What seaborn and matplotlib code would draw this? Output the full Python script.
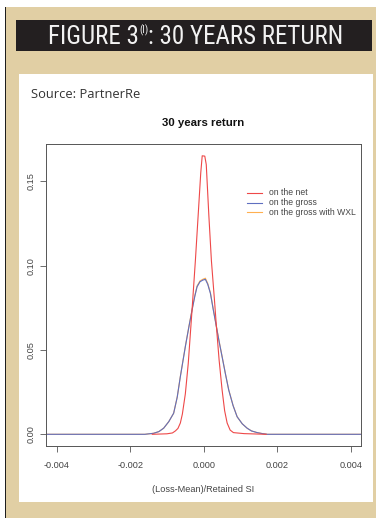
import numpy as np
import pandas as pd
import matplotlib
matplotlib.use("Agg")
import matplotlib.pyplot as plt
import seaborn as sns
from matplotlib.patches import Rectangle

# ---- data ----
net_x = [-0.0014, -0.0010, -0.00085, -0.00077, -0.00070, -0.000635, -0.00058, -0.000499,
         -0.00042, -0.000316, -0.000226, -0.00015, -0.00008, -0.00004, 0.00003, 0.00007,
         0.00014, 0.000210, 0.000292, 0.000346, 0.00042, 0.000501, 0.00057, 0.000638,
         0.00072, 0.000809, 0.0011, 0.0017]
net_y = [0.0, 0.0003, 0.0008, 0.0020, 0.0035, 0.0067, 0.0120, 0.0240,
         0.0420, 0.0740, 0.1030, 0.1300, 0.1550, 0.1652, 0.1650, 0.1600,
         0.1300, 0.1030, 0.0800, 0.0640, 0.0440, 0.0263, 0.0140, 0.0067,
         0.0025, 0.0010, 0.0004, 0.0]

gross_x = [-0.0050, -0.0016, -0.001362, -0.00122, -0.001090, -0.00095, -0.000817, -0.00072,
           -0.000635, -0.000499, -0.00040, -0.000316, -0.00024, -0.000180, -0.00010, -0.00002,
           0.000046, 0.00011, 0.000183, 0.00026, 0.000346, 0.00042, 0.000501, 0.00059,
           0.000681, 0.00080, 0.000910, 0.00105, 0.001183, 0.0013, 0.001455, 0.0016,
           0.001728, 0.0050]
gross_y = [0.0, 0.0, 0.0006, 0.0016, 0.0036, 0.0075, 0.0125, 0.0220,
           0.0342, 0.0520, 0.0640, 0.0737, 0.0820, 0.0875, 0.0905, 0.0915,
           0.0919, 0.0890, 0.0836, 0.0740, 0.0638, 0.0550, 0.0460, 0.0360,
           0.0263, 0.0170, 0.0104, 0.0062, 0.0036, 0.0020, 0.0010, 0.0004,
           0.0, 0.0]

wxl_x = gross_x
wxl_y = [0.0, 0.0, 0.0006, 0.0016, 0.0036, 0.0075, 0.0125, 0.0221,
         0.0343, 0.0522, 0.0643, 0.0740, 0.0824, 0.0880, 0.0910, 0.0920,
         0.0926, 0.0895, 0.0840, 0.0743, 0.0640, 0.0552, 0.0462, 0.0361,
         0.0264, 0.0171, 0.0104, 0.0062, 0.0036, 0.0020, 0.0010, 0.0004,
         0.0, 0.0]

series_names = ["on the net", "on the gross", "on the gross with WXL"]
x_ticks = [-0.004, -0.002, 0.000, 0.002, 0.004]
x_tick_labels = ["-0.004", "-0.002", "0.000", "0.002", "0.004"]
y_ticks = [0.00, 0.05, 0.10, 0.15]
y_tick_labels = ["0.00", "0.05", "0.10", "0.15"]

colors = {"on the net": "#EE4848", "on the gross": "#5F6FC0", "on the gross with WXL": "#FFB050"}

# draw order: WXL under gross, net on top
df = pd.concat([
    pd.DataFrame({"x": wxl_x, "y": wxl_y, "series": series_names[2]}),
    pd.DataFrame({"x": gross_x, "y": gross_y, "series": series_names[1]}),
    pd.DataFrame({"x": net_x, "y": net_y, "series": series_names[0]}),
], ignore_index=True)

W, H = 378, 518
fig = plt.figure(figsize=(W / 100, H / 100), dpi=100)
fig.patch.set_facecolor("white")

def rect(x0, y0, x1, y1, color, z=0):
    fig.patches.append(Rectangle((x0 / W, 1 - y1 / H), (x1 - x0) / W, (y1 - y0) / H,
                                 transform=fig.transFigure, facecolor=color,
                                 edgecolor="none", zorder=z))

BEIGE = "#E1CFA4"
rect(5, 7, 376, 518, BEIGE, 0)
rect(4.5, 7, 6, 518, "#1E1E1E", 1)
rect(16, 20, 372, 51, "#231F20", 1)
rect(19, 74, 373, 502, "white", 1)

# header
hdr_font = ["Liberation Sans Narrow", "Roboto Condensed", "Open Sans"]
fig.canvas.draw()
renderer = fig.canvas.get_renderer()
parts = [("FIGURE 3", 18), ("(I)", 7.5), (": 30 YEARS RETURN", 18)]
texts = []
for s, fs in parts:
    t = fig.text(0, 0, s, fontsize=fs, color="#F2F2F2", family=hdr_font, va="baseline", ha="left")
    texts.append(t)
widths = [t.get_window_extent(renderer).width for t in texts]
total = sum(widths) + 1
x = 196 - total / 2
base_y = 1 - 44.5 / H
for i, t in enumerate(texts):
    yy = base_y if i != 1 else 1 - 33 / H
    t.set_position((x / W, yy))
    x += widths[i] + (0.5 if i == 0 else 0)

fig.text(31 / W, 1 - 98 / H, "Source: PartnerRe", fontsize=9.3, color="#333333",
         family=["Open Sans", "DejaVu Sans"], va="baseline", ha="left")

# axes
L, R, T, B = 46, 361, 144, 446
ax = fig.add_axes([L / W, 1 - B / H, (R - L) / W, (B - T) / H])
ax.set_facecolor("white")
ax.set_zorder(2)

sns.lineplot(data=df, x="x", y="y", hue="series", palette=colors, sort=False,
             estimator=None, lw=0.8, ax=ax, legend=False)

ax.set_xlim(-0.00429, 0.00428)
ax.set_ylim(-0.00694, 0.1722)

tick_font = ["Liberation Sans", "DejaVu Sans"]
ax.set_xticks(x_ticks)
ax.set_xticklabels(x_tick_labels, fontsize=6.6, color="#444444", family=tick_font)
ax.set_yticks(y_ticks)
ax.set_yticklabels(y_tick_labels, fontsize=6.6, color="#444444", family=tick_font,
                   rotation=90, va="center")
ax.tick_params(direction="out", length=4.5, width=0.6, color="#555555")
ax.tick_params(axis="x", pad=6)
ax.tick_params(axis="y", pad=3)
for sp in ax.spines.values():
    sp.set_color("#555555")
    sp.set_linewidth(0.7)
ax.grid(False)
ax.set_xlabel("(Loss-Mean)/Retained SI", fontsize=6.6, color="#444444", family=tick_font,
              labelpad=11)
ax.set_ylabel("")

fig.text(203 / W, 1 - 123.5 / H, "30 years return", fontsize=8.2, fontweight="bold",
         color="#111111", family=tick_font, ha="center", va="center")

# legend (no frame)
leg_rows = [192.7, 202.7, 212.3]
for name, yy in zip(series_names, leg_rows):
    fig.lines.append(plt.Line2D([247 / W, 262 / W], [1 - yy / H, 1 - yy / H],
                                transform=fig.transFigure, color=colors[name], lw=0.8, zorder=5))
    fig.text(269 / W, 1 - yy / H, name, fontsize=6.2, color="#444444", family=tick_font,
             ha="left", va="center", zorder=5)

fig.savefig("out.png", dpi=100, facecolor=fig.get_facecolor())
